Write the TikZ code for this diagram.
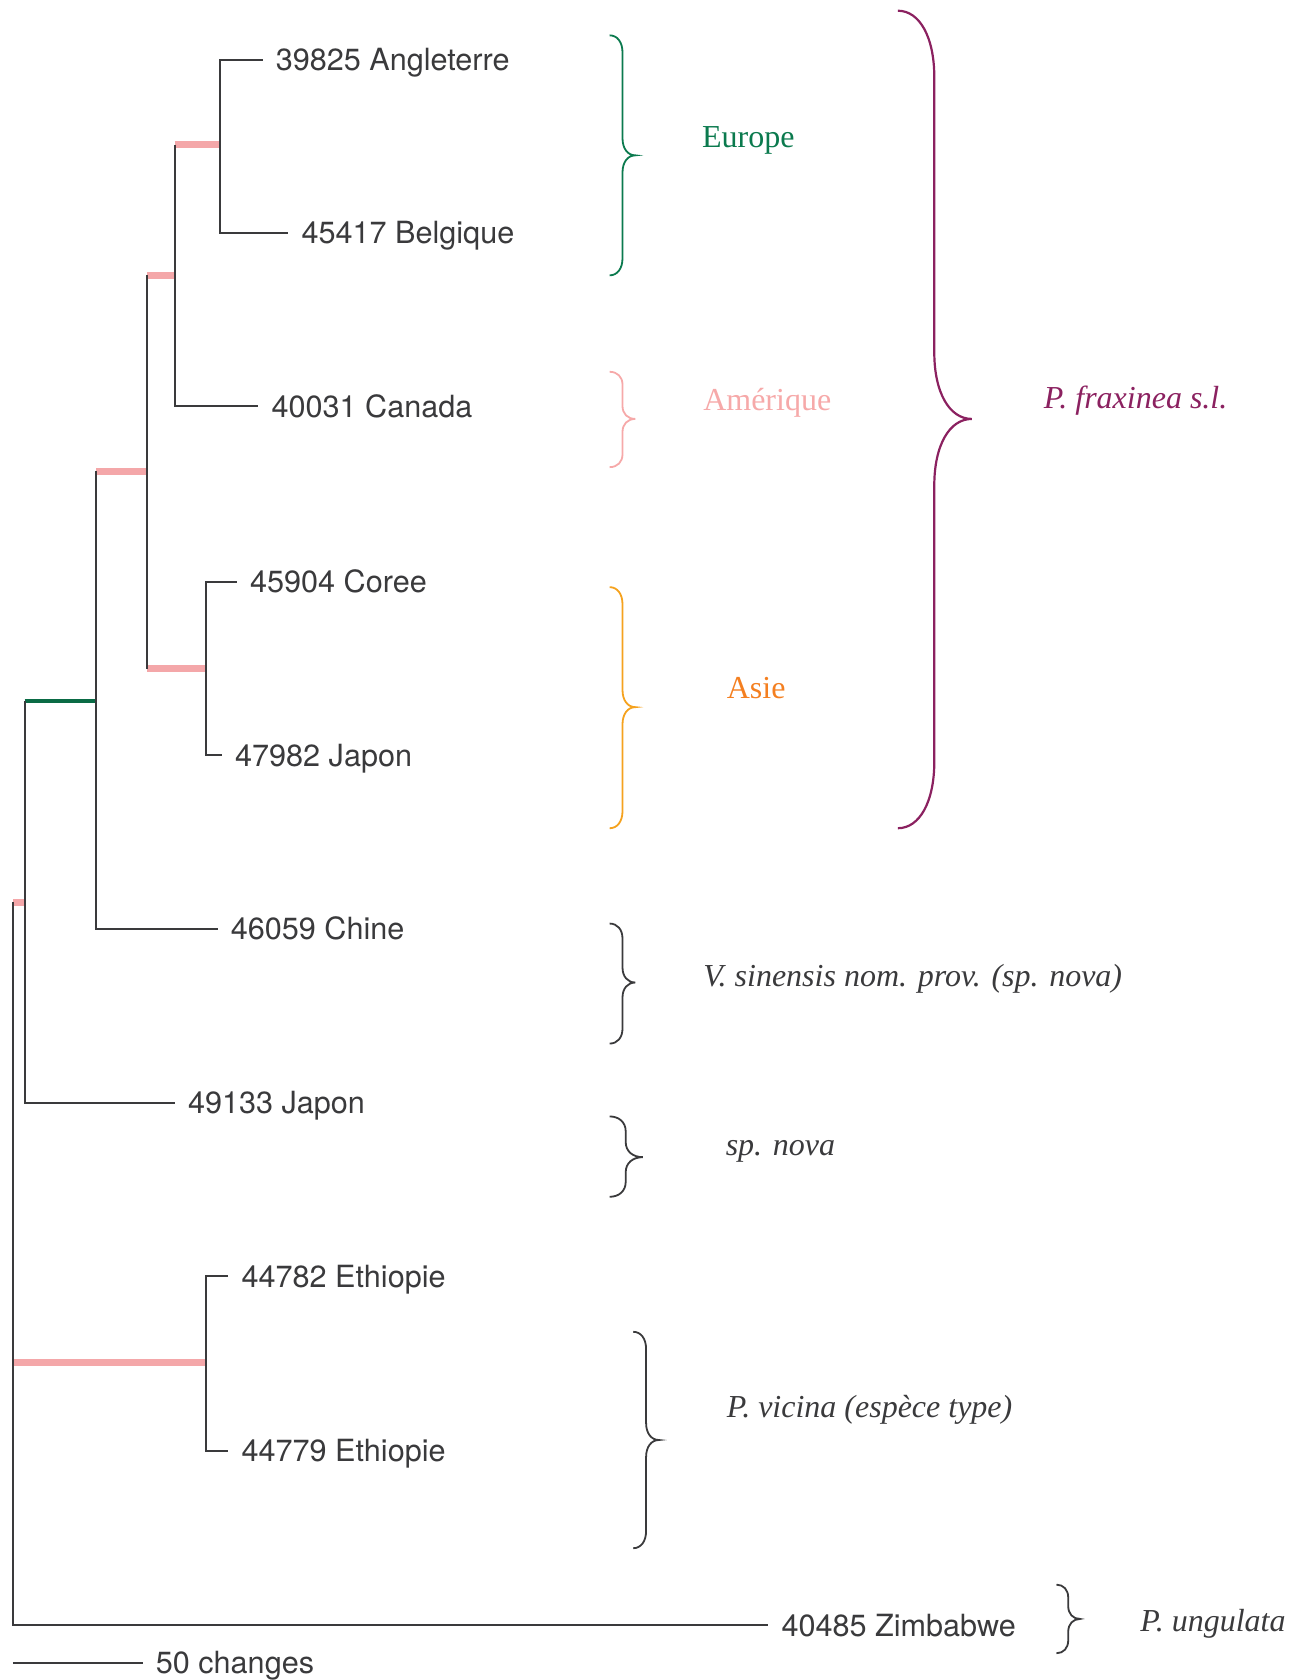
\documentclass[tikz,border=0pt]{standalone}
\usepackage{fontspec}
\setmainfont{Liberation Serif}
\newfontfamily\hvfont{TeX Gyre Heros}
\definecolor{treegray}{HTML}{3A3A3C}
\definecolor{stempink}{HTML}{F4A7A9}
\definecolor{stemgreen}{HTML}{0A6B45}
\definecolor{eurgreen}{HTML}{0B7A4E}
\definecolor{amepink}{HTML}{F6A9A9}
\definecolor{asitext}{HTML}{F47F20}
\definecolor{asibrace}{HTML}{F5A21E}
\definecolor{fraxpurple}{HTML}{8B2160}
\newcommand{\curlyb}[8]{%
  \draw[#1] (#2,#5) .. controls ({#2+0.6*(#3-#2)},#5) and (#3,{#5+0.4*#8}) .. (#3,{#5+#8})
    -- (#3,{#6-#8}) .. controls (#3,{#6-0.4*#8}) and ({#3+0.4*(#4-#3)},#6) .. (#4,#6)
    .. controls ({#3+0.4*(#4-#3)},#6) and (#3,{#6+0.4*#8}) .. (#3,{#6+#8})
    -- (#3,{#7-#8}) .. controls (#3,{#7-0.4*#8}) and ({#2+0.6*(#3-#2)},#7) .. (#2,#7);}
\begin{document}
\begin{tikzpicture}[x=0.5358pt,y=-0.5358pt,
  br/.style={draw=treegray, line width=1pt},
  pinkstem/.style={draw=stempink, line width=3.4pt},
  greenstem/.style={draw=stemgreen, line width=1.8pt},
  leaf/.style={anchor=west, inner xsep=6.5pt, inner ysep=0pt, text height=11pt, text depth=0pt,
    font=\hvfont\fontsize{15.3}{18}\selectfont, text=treegray},
  grp/.style={anchor=base west, inner sep=0pt, font=\fontsize{16}{19}\selectfont},
  brc/.style={line width=0.9pt}]
\useasboundingbox (0,0) rectangle (1215,1568);
% internal nodes
\coordinate (R) at (12,1272);
\coordinate (A) at (23,842);
\coordinate (B) at (90,654);
\coordinate (C) at (137,440);
\coordinate (D) at (163,257);
\coordinate (E) at (205,135);
\coordinate (F) at (192,624);
\coordinate (G) at (192,1272);
\coordinate (sb) at (12,1552);
% leaves
\node[leaf] (ang) at (245,56) {39825 Angleterre};
\node[leaf] (bel) at (269,217) {45417 Belgique};
\node[leaf] (can) at (241,379) {40031 Canada};
\node[leaf] (cor) at (221,543) {45904 Coree};
\node[leaf] (jap1) at (207,705) {47982 Japon};
\node[leaf] (chi) at (203,867) {46059 Chine};
\node[leaf] (jap2) at (163,1029) {49133 Japon};
\node[leaf] (eth1) at (213,1191) {44782 Ethiopie};
\node[leaf] (eth2) at (213,1354) {44779 Ethiopie};
\node[leaf] (zim) at (717,1517) {40485 Zimbabwe};
\node[leaf] (sc) at (133,1552) {50 changes};
% coloured stems
\draw[pinkstem] (E -| D) -- (E);
\draw[pinkstem] (D -| C) -- (D);
\draw[pinkstem] (C -| B) -- (C);
\draw[pinkstem] (F -| C) -- (F);
\draw[greenstem] (B -| A) -- (B);
\draw[pinkstem] (A -| R) -- (A);
\draw[pinkstem] (R) -- (G);
% black branches
\draw[br] (ang.west) -| (E) |- (bel.west);
\draw[br] (E -| D) |- (can.west);
\draw[br] (D -| C) -- (F -| C);
\draw[br] (cor.west) -| (F) |- (jap1.west);
\draw[br] (C -| B) |- (chi.west);
\draw[br] (B -| A) |- (jap2.west);
\draw[br] (eth1.west) -| (G) |- (eth2.west);
\draw[br] (A -| R) |- (zim.west);
\draw[br] (sb) -- (sc.west);
% braces
\curlyb{brc,draw=eurgreen}{569}{581}{593}{33}{145}{257}{16}
\curlyb{brc,draw=amepink}{569}{581}{593}{347}{391}{436}{12}
\curlyb{brc,draw=asibrace}{569}{581}{593}{548}{660}{773}{16}
\curlyb{brc,draw=fraxpurple,line width=1.1pt}{838}{872}{907}{10}{391}{773}{62}
\curlyb{brc,draw=treegray}{569}{581}{593}{862}{917}{974}{14}
\curlyb{brc,draw=treegray}{569}{584}{600}{1042}{1080}{1117}{14}
\curlyb{brc,draw=treegray}{591}{603}{615}{1243}{1344}{1445}{16}
\curlyb{brc,draw=treegray}{986}{997}{1008}{1479}{1511}{1543}{12}
% group labels
\node[grp, text=eurgreen] (leur) at (655,138) {Europe};
\node[grp, text=amepink] (lame) at (656,383) {Amérique};
\node[grp, text=asitext] (lasi) at (678,652) {Asie};
\node[grp, text=fraxpurple, font=\fontsize{16}{19}\selectfont\itshape] (lfra) at (974,381) {P. fraxinea s.l.};
\node[grp, text=treegray, font=\fontsize{16}{19}\selectfont\itshape] (lsin) at (656,921) {V. sinensis nom. prov. (sp. nova)};
\node[grp, text=treegray, font=\fontsize{16}{19}\selectfont\itshape] (lspn) at (677,1078) {sp. nova};
\node[grp, text=treegray, font=\fontsize{16}{19}\selectfont\itshape] (lvic) at (678,1323) {P. vicina (espèce type)};
\node[grp, text=treegray, font=\fontsize{16}{19}\selectfont\itshape] (lung) at (1064,1523) {P. ungulata};
\end{tikzpicture}
\end{document}
